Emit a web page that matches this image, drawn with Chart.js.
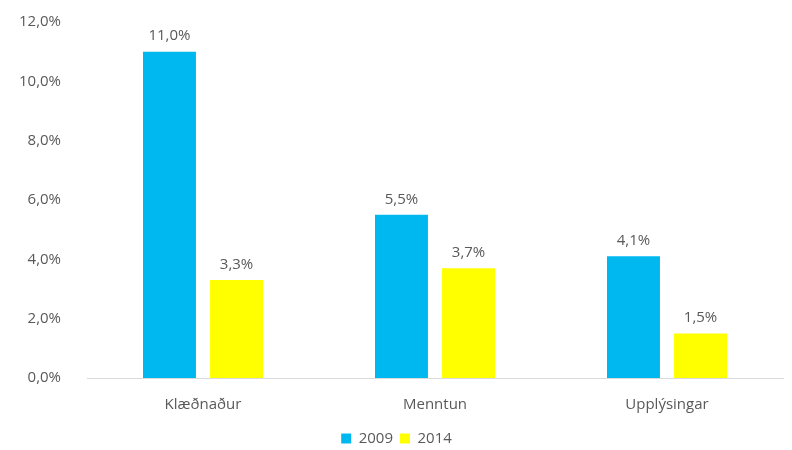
<!DOCTYPE html>
<html>
<head>
<meta charset="utf-8">
<script src="https://cdn.jsdelivr.net/npm/chart.js@4"></script>
<style>
  html, body { margin: 0; padding: 0; background: #fff; }
  #wrap { width: 792px; height: 450px; }
</style>
</head>
<body>
<div id="wrap"><canvas id="chart" width="792" height="450"></canvas></div>
<script>
const categories = ['Klæðnaður', 'Menntun', 'Upplýsingar'];
const series2009 = [11.0, 5.5, 4.1];
const series2014 = [3.3, 3.7, 1.5];
const seriesNames = ['2009', '2014'];

const fmt = v => v.toFixed(1).replace('.', ',') + '%';
const FONT = '"Open Sans", "Liberation Sans", sans-serif';
const TEXT = '#595959';

// draws the value over each bar
const valueLabels = {
    id: 'valueLabels',
    afterDatasetsDraw(chart) {
        const ctx = chart.ctx;
        ctx.save();
        ctx.font = '15px ' + FONT;
        ctx.fillStyle = TEXT;
        ctx.textAlign = 'center';
        ctx.textBaseline = 'bottom';
        chart.data.datasets.forEach((ds, i) => {
            chart.getDatasetMeta(i).data.forEach((bar, j) => {
                ctx.fillText(fmt(ds.data[j]), bar.x, bar.y - 8);
            });
        });
        ctx.restore();
    }
};

new Chart(document.getElementById('chart'), {
    type: 'bar',
    data: {
        labels: categories,
        datasets: [
            { label: seriesNames[0], data: series2009, backgroundColor: '#00B8F0' },
            { label: seriesNames[1], data: series2014, backgroundColor: '#FFFF00' }
        ]
    },
    options: {
        responsive: false,
        animation: false,
        layout: { padding: { left: 10, right: 9, top: 22, bottom: -6 } },
        datasets: {
            bar: { categoryPercentage: 0.578, barPercentage: 0.79 }
        },
        plugins: {
            legend: {
                position: 'bottom',
                labels: {
                    boxWidth: 10,
                    boxHeight: 10,
                    padding: 7,
                    color: TEXT,
                    font: { family: FONT, size: 15 }
                }
            },
            tooltip: { enabled: false }
        },
        scales: {
            x: {
                grid: { display: false },
                border: { color: '#d9d9d9', width: 1 },
                ticks: { color: TEXT, font: { family: FONT, size: 15 }, padding: 10 }
            },
            y: {
                min: 0,
                max: 12,
                grid: { display: false },
                border: { display: false },
                ticks: {
                    stepSize: 2,
                    color: TEXT,
                    font: { family: FONT, size: 15 },
                    padding: 18,
                    callback: v => fmt(v)
                },
                afterFit(scale) {
                    scale.width = 77;
                    // tick padding should not push the plot down
                    scale.paddingTop = 0;
                    scale.paddingBottom = 0;
                }
            }
        }
    },
    plugins: [valueLabels]
});
</script>
</body>
</html>
